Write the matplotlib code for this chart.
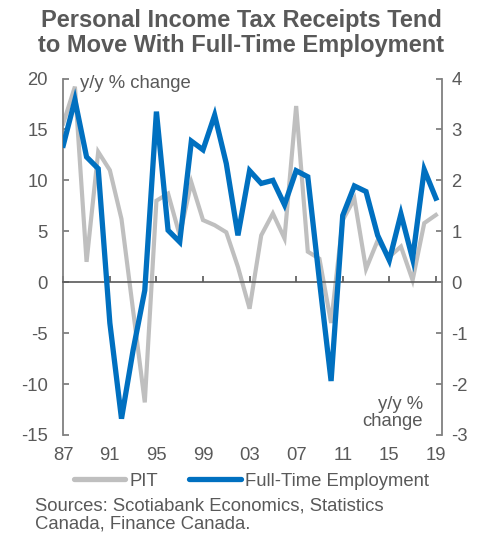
import matplotlib
matplotlib.use("Agg")
import matplotlib.pyplot as plt

plt.rcParams['font.family'] = ['Liberation Sans', 'DejaVu Sans']
plt.rcParams['axes.unicode_minus'] = False

TEXT = '#595959'
BLUE = '#0070C0'
GREY = '#BFBFBF'
FS = 13.3

years = list(range(1987, 2020))

# personal income tax receipts, y/y % change (left axis)
pit = [15.6, 19.2, 2.0, 12.8, 11.0, 6.2, -2.8, -11.8, 8.0, 8.7,
       4.6, 9.8, 6.1, 5.6, 4.9, 1.5, -2.6, 4.6, 6.75, 4.3,
       17.3, 3.0, 2.3, -4.0, 6.1, 8.2, 1.3, 4.1, 2.5, 3.5,
       0.2, 5.8, 6.6]

# full-time employment, y/y % change (right axis)
fte = [2.69, 3.58, 2.46, 2.23, -0.80, -2.68, -1.33, -0.16, 3.35, 1.02,
       0.79, 2.77, 2.60, 3.28, 2.33, 0.92, 2.19, 1.94, 2.00, 1.52,
       2.19, 2.07, 0.03, -1.94, 1.31, 1.89, 1.78, 0.92, 0.43, 1.34,
       0.46, 2.21, 1.65]

xticks = [1987, 1991, 1995, 1999, 2003, 2007, 2011, 2015, 2019]
xlabels = ['87', '91', '95', '99', '03', '07', '11', '15', '19']
left_ticks = [20, 15, 10, 5, 0, -5, -10, -15]
right_ticks = [4, 3, 2, 1, 0, -1, -2, -3]

fig = plt.figure(figsize=(4.83, 5.33), dpi=100)
ax = fig.add_axes([0.131, 0.1839, 0.7835, 0.6688])
ax2 = ax.twinx()

ax.plot(years, pit, color=GREY, lw=3.0, solid_joinstyle='miter', zorder=2)
ax2.plot(years, fte, color=BLUE, lw=3.8, solid_joinstyle='miter', zorder=3)

ax.set_xlim(1987, 2019.5)
ax.set_ylim(-15, 20)
ax2.set_ylim(-3, 4)
ax.set_zorder(ax2.get_zorder() - 1)
ax.patch.set_visible(False)

# axis line through zero with upward year ticks
ax.spines['bottom'].set_position(('data', 0))
ax.spines['bottom'].set_color(TEXT)
ax.spines['bottom'].set_linewidth(1.2)
ax.set_xticks(xticks)
ax.tick_params(axis='x', direction='in', length=4, width=1.2, color=TEXT,
               labelbottom=False)

sec = ax.secondary_xaxis('bottom')
sec.set_xticks(xticks, labels=xlabels)
sec.spines['bottom'].set_visible(False)
sec.tick_params(length=0, pad=9, labelsize=FS, labelcolor=TEXT)

for a in (ax, ax2):
    a.spines['top'].set_visible(False)
ax.spines['right'].set_visible(False)
ax2.spines['left'].set_visible(False)
ax2.spines['bottom'].set_visible(False)
ax.spines['left'].set_color('#808080')
ax.spines['left'].set_linewidth(1.3)
ax2.spines['right'].set_color('#808080')
ax2.spines['right'].set_linewidth(1.3)

ax.set_yticks(left_ticks)
ax.tick_params(axis='y', direction='in', length=4, width=1.3, color='#808080',
               labelsize=FS, labelcolor=TEXT, pad=11)
ax2.set_yticks(right_ticks)
ax2.tick_params(axis='y', direction='in', length=4, width=1.3, color='#808080',
                labelsize=FS, labelcolor=TEXT, pad=7)

fig.text(0.5, 1 - 33 / 533, 'Personal Income Tax Receipts Tend\nto Move With Full-Time Employment',
         ha='center', va='center', fontsize=17, fontweight='bold', color=TEXT,
         linespacing=1.1)

fig.text(80 / 483, 1 - 83 / 533, 'y/y % change', ha='left', va='center',
         fontsize=FS, color=TEXT)
fig.text(423 / 483, 1 - 413 / 533, 'y/y %\nchange', ha='right', va='center',
         multialignment='right', fontsize=FS, color=TEXT, linespacing=1.05)

handles = [plt.Line2D([], [], color=GREY, lw=3.8, solid_capstyle='round'),
           plt.Line2D([], [], color=BLUE, lw=3.8, solid_capstyle='round')]
fig.legend(handles, ['PIT', 'Full-Time Employment'], loc='center',
           bbox_to_anchor=(0.52, 1 - 481 / 533), ncol=2, frameon=False,
           fontsize=FS, labelcolor=TEXT, handlelength=2.8, handletextpad=0.2,
           columnspacing=1.7)

fig.text(35 / 483, 1 - 515 / 533,
         'Sources: Scotiabank Economics, Statistics\nCanada, Finance Canada.',
         ha='left', va='center', fontsize=FS, color=TEXT, linespacing=1.05)

fig.savefig('out.png', dpi=100)
